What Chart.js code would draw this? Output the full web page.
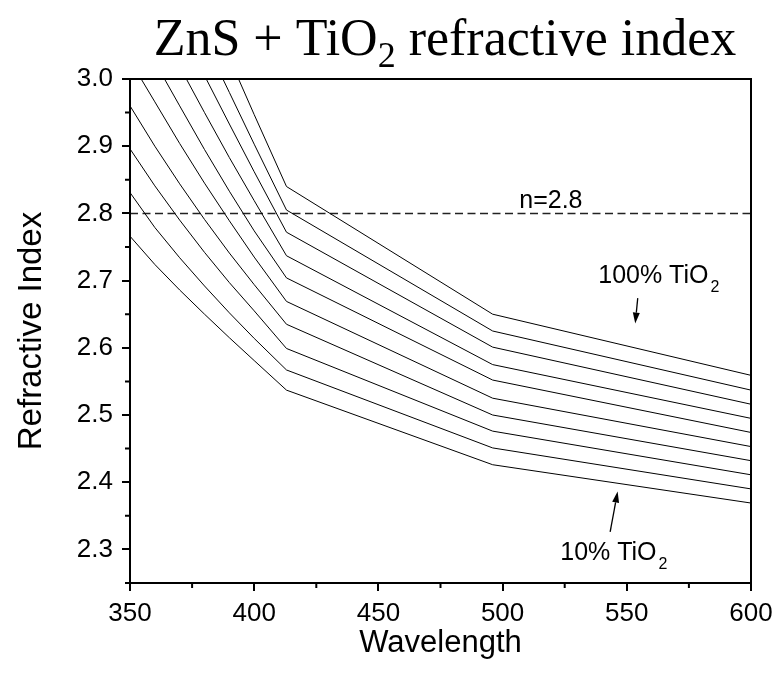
<!DOCTYPE html>
<html>
<head>
<meta charset="utf-8">
<script src="https://cdn.jsdelivr.net/npm/chart.js@4.4.1/dist/chart.umd.min.js"></script>
<style>
  html, body { margin: 0; padding: 0; background: #fff; }
  #wrap { width: 781px; height: 675px; position: relative; }
</style>
</head>
<body>
<div id="wrap"><canvas id="chart"></canvas></div>
<script>
// ZnS + TiO2 refractive index vs wavelength, 10% .. 100% TiO2 (bottom to top)
const LAMBDA = [350, 360, 370, 380, 390, 400, 413, 496, 600];

// curves that are above n = 3.0 at 350 nm enter the frame at these wavelengths
const ENTRY = [350, 350, 350, 350, 354.5, 363.9, 372.7, 380.7, 387.4, 393.7];

const N_10 = [2.766, 2.724, 2.686, 2.650, 2.615, 2.581, 2.537, 2.426, 2.369];
const N_20 = [2.831, 2.779, 2.734, 2.692, 2.652, 2.614, 2.567, 2.451, 2.390];
const N_30 = [2.896, 2.841, 2.790, 2.742, 2.697, 2.655, 2.599, 2.476, 2.411];
const N_40 = [2.960, 2.900, 2.844, 2.791, 2.741, 2.694, 2.635, 2.500, 2.432];
const N_50 = [null, 2.966, 2.904, 2.845, 2.789, 2.735, 2.669, 2.525, 2.453];
const N_60 = [null, null, 2.960, 2.895, 2.833, 2.774, 2.704, 2.552, 2.474];
const N_70 = [null, null, null, 2.950, 2.883, 2.819, 2.737, 2.575, 2.495];
const N_80 = [null, null, null, null, 2.933, 2.862, 2.772, 2.601, 2.516];
const N_90 = [null, null, null, null, 2.980, 2.903, 2.805, 2.625, 2.537];
const N_100 = [null, null, null, null, null, 2.947, 2.840, 2.650, 2.559];

const SERIES = [N_10, N_20, N_30, N_40, N_50, N_60, N_70, N_80, N_90, N_100];
const SERIES_NAMES = ["10%", "20%", "30%", "40%", "50%", "60%", "70%", "80%", "90%", "100%"];

const REF_N = 2.8;
const X_TICKS = [350, 400, 450, 500, 550, 600];
const X_MINOR = [375, 425, 475, 525, 575];
const Y_TICKS = [2.3, 2.4, 2.5, 2.6, 2.7, 2.8, 2.9, 3.0];
const Y_MINOR = [2.25, 2.35, 2.45, 2.55, 2.65, 2.75, 2.85, 2.95];
const X_MIN = 350, X_MAX = 600, Y_MIN = 2.25, Y_MAX = 3.0;

const SANS = "'Liberation Sans', Arial, sans-serif";
const SERIF = "'Liberation Serif', 'Times New Roman', serif";
Chart.defaults.font.family = SANS;
Chart.defaults.color = "#000";

function buildPoints(values, entry) {
  const pts = [];
  if (entry > LAMBDA[0]) pts.push({ x: entry, y: Y_MAX });
  values.forEach((v, i) => {
    if (v != null) pts.push({ x: LAMBDA[i], y: v });
  });
  return pts;
}

const datasets = SERIES.map((vals, i) => ({
  label: SERIES_NAMES[i],
  data: buildPoints(vals, ENTRY[i]),
  borderColor: "#000",
  borderWidth: 1,
  pointRadius: 0,
  tension: 0,
}));

datasets.push({
  label: "n=2.8",
  data: [{ x: X_MIN, y: REF_N }, { x: X_MAX, y: REF_N }],
  borderColor: "#222",
  borderWidth: 1.5,
  borderDash: [8, 4.5],
  pointRadius: 0,
});

// text labels and arrows, in data units
const NOTES = [
  { text: "n=2.8", sub: "", x: 506.7, y: 2.808 },
  { text: "100% TiO", sub: "2", x: 538.5, y: 2.697 },
  { text: "10% TiO", sub: "2", x: 523.2, y: 2.284 },
];
const ARROWS = [
  { from: [554.4, 2.674], to: [553.4, 2.636] },
  { from: [543.3, 2.326], to: [546.3, 2.386] },
];

const decorations = {
  id: "decorations",
  afterDraw(chart) {
    const { ctx, chartArea: a, scales: { x, y } } = chart;
    ctx.save();

    // frame (top/right)
    ctx.strokeStyle = "#000";
    ctx.lineWidth = 2;
    ctx.strokeRect(a.left, a.top, a.right - a.left, a.bottom - a.top);

    // minor ticks
    ctx.beginPath();
    Y_MINOR.forEach((v) => {
      const py = y.getPixelForValue(v);
      ctx.moveTo(a.left, py);
      ctx.lineTo(a.left - 5, py);
    });
    X_MINOR.forEach((v) => {
      const px = x.getPixelForValue(v);
      ctx.moveTo(px, a.bottom);
      ctx.lineTo(px, a.bottom + 5);
    });
    ctx.stroke();

    // notes
    ctx.fillStyle = "#000";
    ctx.textBaseline = "alphabetic";
    NOTES.forEach((n) => {
      const px = x.getPixelForValue(n.x);
      const py = y.getPixelForValue(n.y);
      ctx.font = `25px ${SANS}`;
      ctx.fillText(n.text, px, py);
      if (n.sub) {
        const w = ctx.measureText(n.text).width;
        ctx.font = `16px ${SANS}`;
        ctx.fillText(n.sub, px + w + 2, py + 9);
      }
    });

    // arrows
    ARROWS.forEach((ar) => {
      const x0 = x.getPixelForValue(ar.from[0]), y0 = y.getPixelForValue(ar.from[1]);
      const x1 = x.getPixelForValue(ar.to[0]), y1 = y.getPixelForValue(ar.to[1]);
      const ang = Math.atan2(y1 - y0, x1 - x0);
      const hl = 11, hw = 3.5;
      ctx.lineWidth = 1.3;
      ctx.beginPath();
      ctx.moveTo(x0, y0);
      ctx.lineTo(x1 - hl * Math.cos(ang), y1 - hl * Math.sin(ang));
      ctx.stroke();
      ctx.beginPath();
      ctx.moveTo(x1, y1);
      ctx.lineTo(x1 - hl * Math.cos(ang) + hw * Math.sin(ang), y1 - hl * Math.sin(ang) - hw * Math.cos(ang));
      ctx.lineTo(x1 - hl * Math.cos(ang) - hw * Math.sin(ang), y1 - hl * Math.sin(ang) + hw * Math.cos(ang));
      ctx.closePath();
      ctx.fill();
    });

    // title with subscript
    const big = `52px ${SERIF}`, small = `36px ${SERIF}`;
    const partA = "ZnS + TiO", partB = "2", partC = " refractive index";
    ctx.font = big;
    const wA = ctx.measureText(partA).width, wC = ctx.measureText(partC).width;
    ctx.font = small;
    const wB = ctx.measureText(partB).width;
    const total = wA + wB + wC;
    let tx = 445 - total / 2;
    const ty = 55;
    ctx.font = big;
    ctx.fillText(partA, tx, ty);
    ctx.font = small;
    ctx.fillText(partB, tx + wA, ty + 12);
    ctx.font = big;
    ctx.fillText(partC, tx + wA + wB, ty);

    ctx.restore();
  },
};

new Chart(document.getElementById("chart"), {
  type: "line",
  data: { datasets },
  plugins: [decorations],
  options: {
    responsive: true,
    maintainAspectRatio: false,
    animation: false,
    layout: { padding: { top: 79, right: 30, left: 0, bottom: 0 } },
    plugins: { legend: { display: false }, tooltip: { enabled: false } },
    scales: {
      x: {
        type: "linear",
        min: X_MIN,
        max: X_MAX,
        afterBuildTicks: (axis) => { axis.ticks = X_TICKS.map((v) => ({ value: v })); },
        afterFit: (axis) => { axis.height = 92; },
        ticks: { font: { size: 26 }, color: "#000", padding: 7, maxRotation: 0 },
        grid: { drawOnChartArea: false, tickLength: 8, lineWidth: 2, color: "#000" },
        border: { display: true, color: "#000", width: 2 },
        title: { display: true, text: "Wavelength", font: { size: 31 }, color: "#000", padding: { bottom: 13 } },
      },
      y: {
        min: Y_MIN,
        max: Y_MAX,
        afterBuildTicks: (axis) => { axis.ticks = Y_TICKS.map((v) => ({ value: v })); },
        afterFit: (axis) => { axis.width = 130; },
        ticks: { font: { size: 26 }, color: "#000", padding: 9, callback: (v) => v.toFixed(1) },
        grid: { drawOnChartArea: false, tickLength: 8, lineWidth: 2, color: "#000" },
        border: { display: true, color: "#000", width: 2 },
        title: { display: true, text: "Refractive Index", font: { size: 33 }, color: "#000", padding: { top: 12 } },
      },
    },
  },
});
</script>
</body>
</html>
